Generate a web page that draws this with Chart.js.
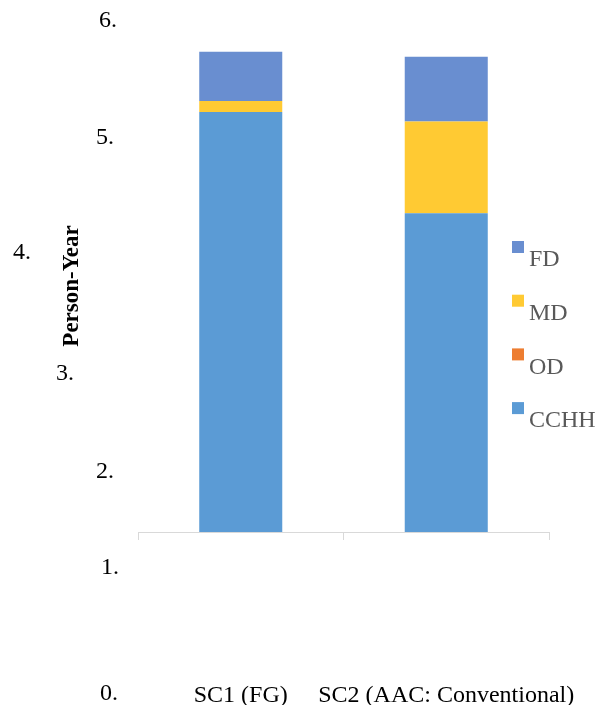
<!DOCTYPE html>
<html>
<head>
<meta charset="utf-8">
<script src="https://cdn.jsdelivr.net/npm/chart.js@4"></script>
<style>
  html, body { margin: 0; padding: 0; background: #fff; }
  #wrap { width: 596px; height: 706px; position: relative; }
</style>
</head>
<body>
<div id="wrap"><canvas id="myChart"></canvas></div>
<script>
const scenarios = ['SC1 (FG)', 'SC2 (AAC: Conventional)'];
const cchh = [4.94, 3.75];
const od = [0, 0];
const md = [0.13, 1.08];
const fd = [0.58, 0.76];
const yTickLabels = ['6.', '5.', '4.', '3.', '2.', '1.', '0.'];

const serif = "'Liberation Serif', 'Times New Roman', serif";

// the y labels in the source sit in odd spots, so they are placed by hand here
const yLabelSpots = [[108, 21], [105, 138], [22, 253], [65, 374], [105, 472], [110, 568], [109, 694]];

const looseLabels = {
  id: 'looseLabels',
  afterDraw(chart) {
    const ctx = chart.ctx;
    ctx.save();
    ctx.font = '24px ' + serif;
    ctx.fillStyle = '#000';
    ctx.textAlign = 'center';
    ctx.textBaseline = 'middle';
    yTickLabels.forEach((t, i) => {
      ctx.fillText(t, yLabelSpots[i][0], yLabelSpots[i][1]);
    });

    // axis title
    ctx.save();
    ctx.translate(72, 286);
    ctx.rotate(-Math.PI / 2);
    ctx.font = 'bold 23px ' + serif;
    ctx.fillText('Person-Year', 0, 0);
    ctx.restore();

    // legend, top to bottom in reverse stack order
    const sets = chart.data.datasets.slice().reverse();
    ctx.font = '24px ' + serif;
    ctx.textAlign = 'left';
    sets.forEach((ds, i) => {
      const y = 241 + i * 53.7;
      ctx.fillStyle = ds.backgroundColor;
      ctx.fillRect(512, y, 12, 12);
      ctx.fillStyle = '#595959';
      ctx.fillText(ds.label, 529, y + 19);
    });
    ctx.restore();
  }
};

const ctx = document.querySelector('#myChart');
new Chart(ctx, {
  type: 'bar',
  data: {
    labels: scenarios,
    datasets: [
      { label: 'CCHH', data: cchh, backgroundColor: '#5B9BD5' },
      { label: 'OD', data: od, backgroundColor: '#ED7D31' },
      { label: 'MD', data: md, backgroundColor: '#FFCA33' },
      { label: 'FD', data: fd, backgroundColor: '#698ED0' }
    ]
  },
  options: {
    responsive: true,
    maintainAspectRatio: false,
    animation: false,
    datasets: {
      bar: { categoryPercentage: 1, barPercentage: 0.404 }
    },
    layout: {
      padding: { left: 138, right: 47, top: 22, bottom: 1 }
    },
    scales: {
      x: {
        stacked: true,
        grid: {
          display: true,
          drawOnChartArea: false,
          tickLength: 8,
          color: '#d9d9d9'
        },
        border: { color: '#d9d9d9', width: 1 },
        ticks: {
          color: '#000',
          padding: 141,
          autoSkip: false,
          maxRotation: 0,
          font: { family: serif, size: 24 }
        },
        afterFit(scale) {
          scale.height = 173;
          scale.paddingLeft = 0;
          scale.paddingRight = 0;
        }
      },
      y: {
        stacked: true,
        display: false,
        min: 0,
        max: 6
      }
    },
    plugins: {
      legend: { display: false },
      tooltip: { enabled: false }
    }
  },
  plugins: [looseLabels]
});
</script>
</body>
</html>
